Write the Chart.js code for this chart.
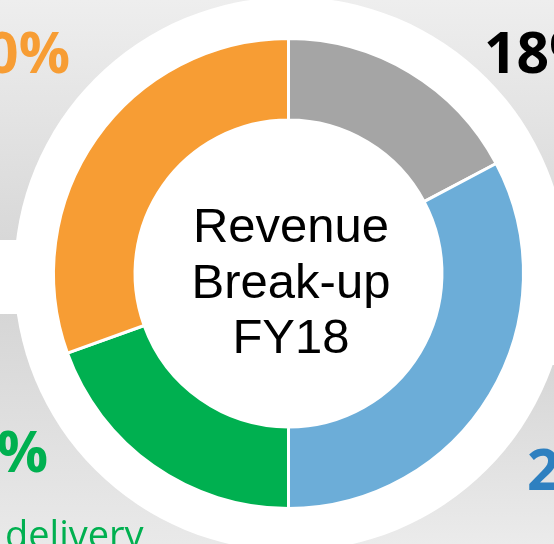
<!DOCTYPE html>
<html>
<head>
<meta charset="utf-8">
<script src="https://cdn.jsdelivr.net/npm/chart.js@4.4.1/dist/chart.umd.min.js"></script>
<style>
	html, body { margin: 0; padding: 0; background: #fff; }
	#wrap { position: relative; width: 554px; height: 544px; overflow: hidden; }
	.panel { position: absolute; }
	#tl { left: 0; top: 0; width: 291px; height: 240px; background: linear-gradient(#eeeeee, #d8d8d8); }
	#bl { left: 0; top: 314px; width: 291px; height: 230px; background: linear-gradient(#d6d6d6, #e9e9e9); }
	#tr { left: 291px; top: 0; width: 263px; height: 240px; background: linear-gradient(#eeeeee, #d8d8d8); }
	#br { left: 291px; top: 365px; width: 263px; height: 179px; background: linear-gradient(#d6d6d6, #ebebeb); }
	#ring { position: absolute; left: 13.5px; top: -3px; width: 554px; height: 554px; border-radius: 50%; background: #fff; }
	canvas { position: absolute; left: 0; top: 0; }
</style>
</head>
<body>
<div id="wrap">
	<div class="panel" id="tl"></div>
	<div class="panel" id="bl"></div>
	<div class="panel" id="tr"></div>
	<div class="panel" id="br"></div>
	<div id="ring"></div>
	<canvas id="chart" width="554" height="544"></canvas>
</div>
<script>
// segments, clockwise from 12 o'clock
const segments = ['Grey', 'Blue', 'Green', 'Orange'];
const shares = [17.25, 32.75, 19.5, 30.5];
const segColors = ['#a5a5a5', '#6cadd8', '#00b050', '#f79d34'];

// the big percentage labels round the ring (partly cut off by the frame)
const pctLabels = ['18%', '27%', '19%', '30%'];
const pctColors = ['#000000', '#2e80c0', '#00b050', '#f79d34'];
const centerLines = ['Revenue', 'Break-up', 'FY18'];

const textPlugin = {
	id: 'texts',
	afterDraw: function (chart) {
		let ctx = chart.ctx;
		ctx.save();
		ctx.textBaseline = 'alphabetic';

		ctx.font = 'bold 57px "Open Sans"';
		// grey, top right
		ctx.fillStyle = pctColors[0];
		ctx.textAlign = 'left';
		ctx.fillText(pctLabels[0], 484, 73);
		// blue, bottom right
		ctx.fillStyle = pctColors[1];
		ctx.fillText(pctLabels[1], 527, 490);
		// green, bottom left
		ctx.fillStyle = pctColors[2];
		ctx.textAlign = 'right';
		ctx.fillText(pctLabels[2], 48, 472);
		// orange, top left
		ctx.fillStyle = pctColors[3];
		ctx.fillText(pctLabels[3], 70, 73);

		ctx.font = '38px "Open Sans"';
		ctx.fillStyle = '#00b050';
		ctx.textAlign = 'left';
		ctx.fillText('delivery', 5, 548);

		ctx.font = '49px "Liberation Sans"';
		ctx.fillStyle = '#000';
		ctx.textAlign = 'center';
		centerLines.forEach(function (line, i) {
			ctx.fillText(line, 291, 242 + i * 55.5);
		});
		ctx.restore();
	}
};

new Chart(document.getElementById('chart'), {
	type: 'doughnut',
	data: {
		labels: segments,
		datasets: [{
			data: shares,
			backgroundColor: segColors,
			borderColor: '#ffffff',
			borderWidth: 3
		}]
	},
	options: {
		responsive: false,
		animation: false,
		cutout: '65.3%',
		layout: { padding: { left: 52, top: 37, right: 29, bottom: 34 } },
		plugins: {
			legend: { display: false },
			tooltip: { enabled: false }
		}
	},
	plugins: [textPlugin]
});
</script>
</body>
</html>
